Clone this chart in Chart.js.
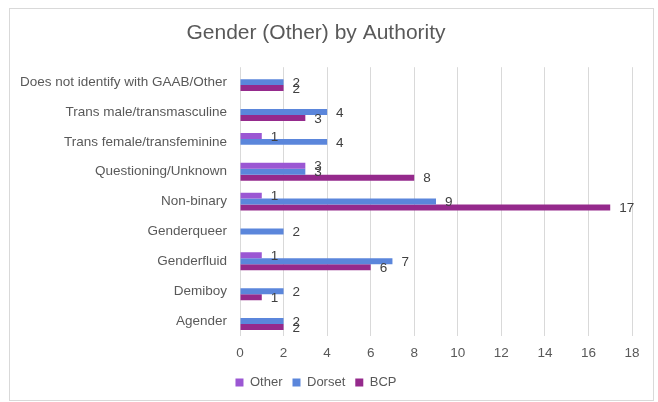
<!DOCTYPE html>
<html>
<head>
<meta charset="utf-8">
<script src="https://cdn.jsdelivr.net/npm/chart.js@4.4.1/dist/chart.umd.min.js"></script>
<style>
  html, body { margin: 0; padding: 0; background: #fff; }
  #frame { position: absolute; left: 9px; top: 8px; width: 643px; height: 391px; border: 1px solid #d9d9d9; }
  #wrap { position: absolute; left: 0; top: 0; width: 658px; height: 402px; }
</style>
</head>
<body>
<div id="frame"></div>
<div id="wrap"><canvas id="chart" width="658" height="402"></canvas></div>
<script>
// Chart data
const categories = [
    'Does not identify with GAAB/Other',
    'Trans male/transmasculine',
    'Trans female/transfeminine',
    'Questioning/Unknown',
    'Non-binary',
    'Genderqueer',
    'Genderfluid',
    'Demiboy',
    'Agender'
];
const otherValues  = [null, null, 1, 3, 1, null, 1, null, null];
const dorsetValues = [2, 4, 4, 3, 9, 2, 7, 2, 2];
const bcpValues    = [2, 3, null, 8, 17, null, 6, 1, 2];
const xTicks = [0, 2, 4, 6, 8, 10, 12, 14, 16, 18];

const colors = {
    other: '#9b57d3',
    dorset: '#5b86db',
    bcp: '#952a8c',
    text: '#595959',
    grid: '#d9d9d9'
};
const fontFamily = '"Liberation Sans", Arial, sans-serif';

// Draws the value at the end of each bar
const valueLabels = {
    id: 'valueLabels',
    afterDatasetsDraw(chart) {
        const ctx = chart.ctx;
        ctx.save();
        ctx.font = '13.5px ' + fontFamily;
        ctx.fillStyle = '#404040';
        ctx.textAlign = 'left';
        ctx.textBaseline = 'middle';
        chart.data.datasets.forEach((ds, i) => {
            const meta = chart.getDatasetMeta(i);
            meta.data.forEach((bar, j) => {
                const v = ds.data[j];
                if (v === null || v === undefined) return;
                ctx.fillText(String(v), bar.x + 9, bar.y + 1);
            });
        });
        ctx.restore();
    }
};

new Chart(document.getElementById('chart'), {
    type: 'bar',
    data: {
        labels: categories,
        datasets: [
            { label: 'Other', data: otherValues, backgroundColor: colors.other },
            { label: 'Dorset', data: dorsetValues, backgroundColor: colors.dorset },
            { label: 'BCP', data: bcpValues, backgroundColor: colors.bcp }
        ]
    },
    options: {
        indexAxis: 'y',
        responsive: false,
        animation: false,
        datasets: {
            bar: { categoryPercentage: 0.6, barPercentage: 1.0 }
        },
        layout: { padding: { left: 0, right: 26, top: 0, bottom: 3 } },
        scales: {
            x: {
                min: 0,
                max: 18,
                afterBuildTicks: (scale) => { scale.ticks = xTicks.map(v => ({ value: v })); },
                afterFit: (scale) => { scale.height = 30; },
                grid: { color: colors.grid, drawTicks: false },
                border: { display: false },
                ticks: { color: colors.text, font: { family: fontFamily, size: 13.5 }, padding: 9 }
            },
            y: {
                afterFit: (scale) => { scale.width = 240; },
                grid: { display: false, drawTicks: false },
                border: { display: false },
                ticks: { color: colors.text, font: { family: fontFamily, size: 13.5 }, padding: 13, autoSkip: false }
            }
        },
        plugins: {
            title: {
                display: true,
                text: 'Gender (Other) by Authority',
                color: colors.text,
                font: { family: fontFamily, size: 21, weight: 'normal' },
                padding: { top: 21, bottom: 21 }
            },
            legend: {
                position: 'bottom',
                labels: {
                    color: colors.text,
                    font: { family: fontFamily, size: 13 },
                    boxWidth: 8,
                    boxHeight: 8,
                    padding: 10
                }
            },
            tooltip: { enabled: false }
        }
    },
    plugins: [valueLabels]
});
</script>
</body>
</html>
